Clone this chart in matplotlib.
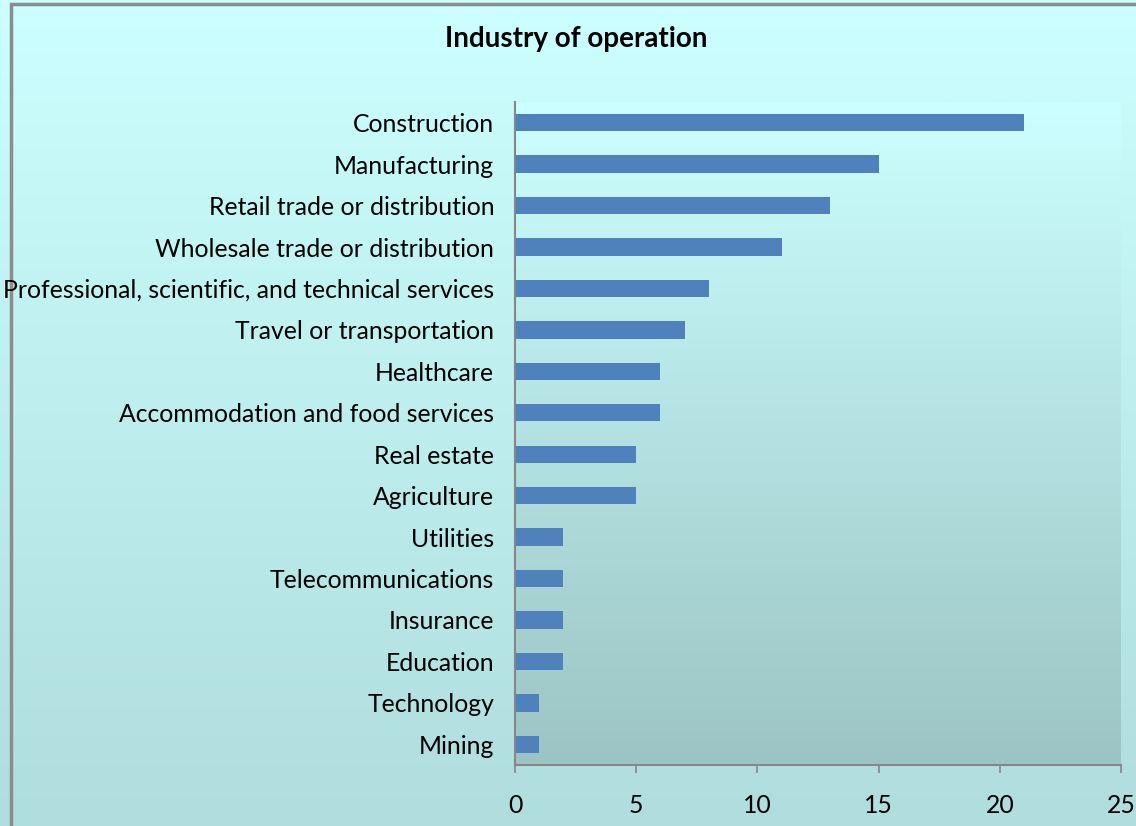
import matplotlib.pyplot as plt
import numpy as np
from matplotlib.colors import LinearSegmentedColormap
from matplotlib.patches import Rectangle

# --- Data ---
categories = ['Construction', 'Manufacturing', 'Retail trade or distribution',
              'Wholesale trade or distribution',
              'Professional, scientific, and technical services',
              'Travel or transportation', 'Healthcare',
              'Accommodation and food services', 'Real estate', 'Agriculture',
              'Utilities', 'Telecommunications', 'Insurance', 'Education',
              'Technology', 'Mining']
values = [21, 15, 13, 11, 8, 7, 6, 6, 5, 5, 2, 2, 2, 2, 1, 1]
x_ticks = [0, 5, 10, 15, 20, 25]

plt.rcParams['font.family'] = ['Lato', 'DejaVu Sans']

fig = plt.figure(figsize=(11.36, 8.26), dpi=100)

# figure background gradient
bg = fig.add_axes([0, 0, 1, 1], zorder=-10)
bg_cmap = LinearSegmentedColormap.from_list('bg', ['#CCFFFF', '#B0DDDD'])
bg.imshow(np.linspace(0, 1, 256).reshape(-1, 1), aspect='auto', cmap=bg_cmap,
          extent=[0, 1, 0, 1], origin='upper')
bg.set_xlim(0, 1)
bg.set_ylim(0, 1)
bg.axis('off')
bg.add_patch(Rectangle((11 / 1136, -0.1), 1.2, 1 - 4 / 826 + 0.1, fill=False,
                       edgecolor='#8C8C8C', linewidth=2.5))

ax = fig.add_axes([515 / 1136, 1 - 765 / 826, (1121 - 515) / 1136, (765 - 102) / 826])
ax.patch.set_alpha(0)

# plot area gradient
pa_cmap = LinearSegmentedColormap.from_list('pa', ['#CCFFFF', '#9CC4C4'])
ax.imshow(np.linspace(0, 1, 256).reshape(-1, 1), aspect='auto', cmap=pa_cmap,
          extent=[0, 25, len(categories) - 0.5, -0.5], zorder=0)

y = np.arange(len(categories))
ax.barh(y, values, height=0.42, color='#4F81BD', zorder=2)

ax.set_xlim(0, 25)
ax.set_ylim(len(categories) - 0.5, -0.5)
ax.set_xticks(x_ticks)
ax.set_yticks(y)
ax.set_yticklabels(categories)

for s in ['top', 'right']:
    ax.spines[s].set_visible(False)
for s in ['left', 'bottom']:
    ax.spines[s].set_color('#868686')
    ax.spines[s].set_linewidth(1.5)

ax.tick_params(axis='x', length=6, width=1.2, color='#868686', pad=15,
               labelsize=17.8, labelcolor='black')
ax.tick_params(axis='y', length=0, pad=15, labelsize=17.8, labelcolor='black')

fig.text(576 / 1136, 1 - 39 / 826, 'Industry of operation', ha='center',
         va='center', fontsize=20, fontweight='bold')

fig.savefig('out.png', dpi=100)
